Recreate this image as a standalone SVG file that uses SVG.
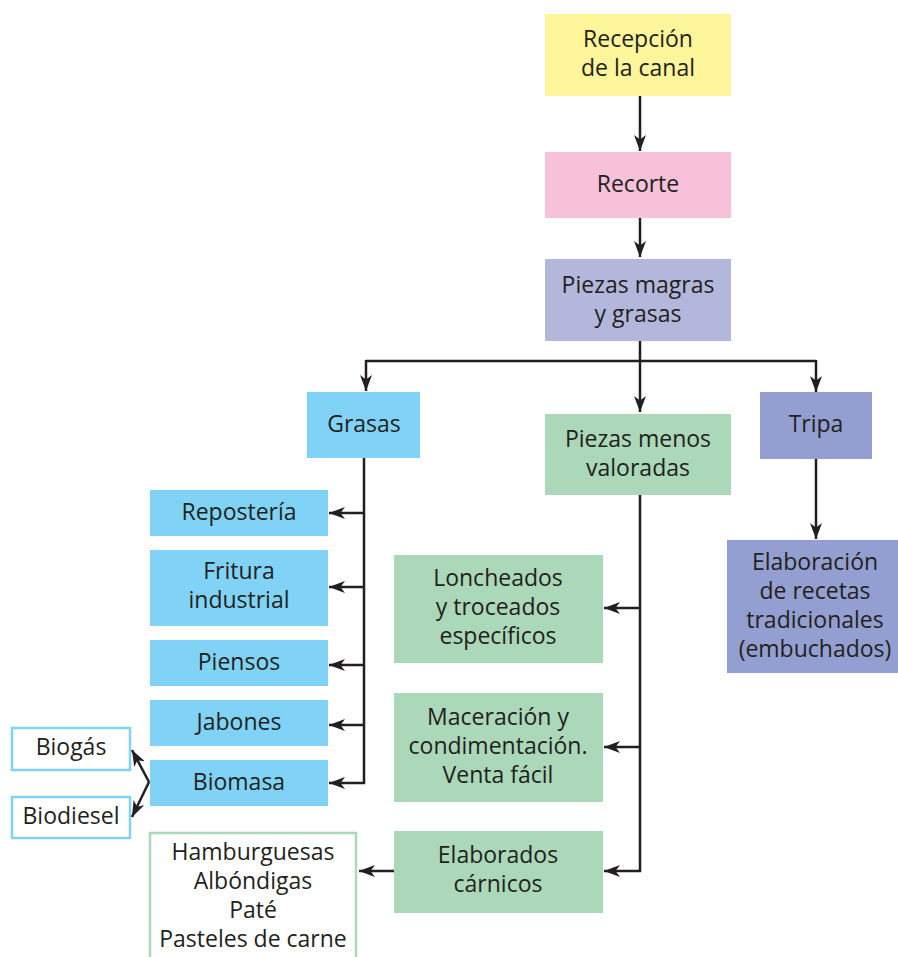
<svg xmlns="http://www.w3.org/2000/svg" width="898" height="957" viewBox="0 0 898 957">
<style>
text{font-family:"Open Sans","Noto Sans","Liberation Sans",sans-serif;font-size:23px;fill:#231F20;text-anchor:middle}
.yel{fill:#FFF59B}.pink{fill:#F6C1D9}.lav{fill:#B3B7DB}.blue{fill:#80D3F6}.green{fill:#AAD8B9}.pur{fill:#939FD0}
.obl{fill:#fff;stroke:#80D3F6;stroke-width:2.5}.ogr{fill:#fff;stroke:#AAD8B9;stroke-width:2.5}
.c line,.c path{stroke:#231F20;stroke-width:2.5;fill:none}
.a{marker-end:url(#ah)}
</style>
<defs>
<marker id="ah" markerUnits="userSpaceOnUse" viewBox="0 0 16 12" refX="16" refY="6" markerWidth="16" markerHeight="12" orient="auto">
<path d="M0,0 L16,6 L0,12 L4.5,6 z" fill="#231F20"/>
</marker>
</defs>
<g id="recepcion"><rect class="yel" x="545" y="14" width="186" height="82"/><text x="638" y="47">Recepción</text><text x="638" y="76">de la canal</text></g>
<g id="recorte"><rect class="pink" x="545" y="152" width="186" height="66"/><text x="638" y="192">Recorte</text></g>
<g id="piezas"><rect class="lav" x="545" y="259" width="186" height="82"/><text x="638" y="293">Piezas magras</text><text x="638" y="322">y grasas</text></g>
<g id="grasas"><rect class="blue" x="307" y="392" width="113" height="66"/><text x="364" y="432">Grasas</text></g>
<g id="menos"><rect class="green" x="545" y="414" width="186" height="81"/><text x="638" y="447">Piezas menos</text><text x="638" y="476">valoradas</text></g>
<g id="tripa"><rect class="pur" x="760" y="392" width="112" height="67"/><text x="816" y="432">Tripa</text></g>
<g id="reposteria"><rect class="blue" x="150" y="490" width="178" height="46"/><text x="239" y="520">Repostería</text></g>
<g id="fritura"><rect class="blue" x="150" y="550" width="178" height="76"/><text x="239" y="579">Fritura</text><text x="239" y="608">industrial</text></g>
<g id="piensos"><rect class="blue" x="150" y="640" width="178" height="46"/><text x="239" y="670">Piensos</text></g>
<g id="jabones"><rect class="blue" x="150" y="700" width="178" height="46"/><text x="239" y="730">Jabones</text></g>
<g id="biomasa"><rect class="blue" x="150" y="760" width="178" height="46"/><text x="239" y="790">Biomasa</text></g>
<g id="biogas"><rect class="obl" x="12" y="728" width="118" height="42"/><text x="71" y="755">Biogás</text></g>
<g id="biodiesel"><rect class="obl" x="12" y="797" width="118" height="41"/><text x="71" y="824">Biodiesel</text></g>
<g id="hamburguesas"><rect class="ogr" x="150" y="833" width="206" height="140"/><text x="253" y="860">Hamburguesas</text><text x="253" y="889">Albóndigas</text><text x="253" y="918">Paté</text><text x="253" y="947">Pasteles de carne</text></g>
<g id="loncheados"><rect class="green" x="394" y="555" width="209" height="108"/><text x="498" y="586">Loncheados</text><text x="498" y="615">y troceados</text><text x="498" y="644">específicos</text></g>
<g id="maceracion"><rect class="green" x="394" y="693" width="209" height="109"/><text x="498" y="725">Maceración y</text><text x="498" y="754">condimentación.</text><text x="498" y="783">Venta fácil</text></g>
<g id="elaborados"><rect class="green" x="394" y="831" width="209" height="82"/><text x="498" y="863">Elaborados</text><text x="498" y="892">cárnicos</text></g>
<g id="elaboracion"><rect class="pur" x="727" y="540" width="171" height="133"/><text x="815" y="570">Elaboración</text><text x="815" y="599">de recetas</text><text x="815" y="628">tradicionales</text><text x="815" y="657">(embuchados)</text></g>
<g id="connectors" class="c">
<line class="a" x1="640" y1="96" x2="640" y2="151"/>
<line class="a" x1="640" y1="218" x2="640" y2="257"/>
<line class="a" x1="640" y1="341" x2="640" y2="412"/>
<path d="M366,361 L816,361"/>
<line class="a" x1="366" y1="360" x2="366" y2="391"/>
<line class="a" x1="816" y1="360" x2="816" y2="392"/>
<path d="M364,458 L364,784"/>
<line class="a" x1="365" y1="513" x2="329" y2="513"/>
<line class="a" x1="365" y1="587" x2="329" y2="587"/>
<line class="a" x1="365" y1="665" x2="329" y2="665"/>
<line class="a" x1="365" y1="725" x2="329" y2="725"/>
<line class="a" x1="365" y1="783" x2="329" y2="783"/>
<line class="a" x1="816" y1="459" x2="816" y2="539"/>
<path d="M640,495 L640,872"/>
<line class="a" x1="641" y1="608" x2="604" y2="608"/>
<line class="a" x1="641" y1="747" x2="604" y2="747"/>
<line class="a" x1="641" y1="871" x2="604" y2="871"/>
<line class="a" x1="394" y1="871" x2="359" y2="871"/>
<line class="a" x1="149" y1="782" x2="132" y2="750"/>
<line class="a" x1="149" y1="782" x2="132" y2="817"/>
</g>
</svg>
